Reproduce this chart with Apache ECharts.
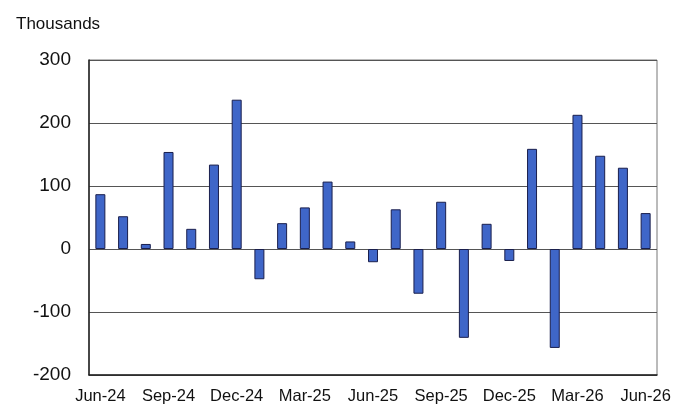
<!DOCTYPE html>
<html lang="en">
<head>
    <meta charset="UTF-8">
    <title>Thousands</title>
    <script src="https://cdn.jsdelivr.net/npm/echarts@6/dist/echarts.min.js"></script>
    <style>
        html, body { margin: 0; padding: 0; background: #fff; }
        #chart { width: 700px; height: 415px; }
    </style>
</head>
<body>
    <div id="chart"></div>
    <script>
        const months = [
            'Jun-24', 'Jul-24', 'Aug-24', 'Sep-24', 'Oct-24', 'Nov-24', 'Dec-24',
            'Jan-25', 'Feb-25', 'Mar-25', 'Apr-25', 'May-25', 'Jun-25', 'Jul-25',
            'Aug-25', 'Sep-25', 'Oct-25', 'Nov-25', 'Dec-25', 'Jan-26', 'Feb-26',
            'Mar-26', 'Apr-26', 'May-26', 'Jun-26'
        ];
        const changes = [
            87, 52, 8, 154, 32, 134, 237,
            -48, 41, 66, 107, 12, -21, 63,
            -71, 75, -141, 40, -19, 159, -157,
            213, 148, 129, 57
        ];
        const yTicks = [-200, -100, 0, 100, 200, 300];

        const chart = echarts.init(document.getElementById('chart'));
        const font = 'Liberation Sans, Arial, sans-serif';

        chart.setOption({
            animation: false,
            title: {
                text: 'Thousands',
                left: 11,
                top: 11,
                textStyle: { fontFamily: font, fontSize: 17, fontWeight: 'normal', color: '#111' }
            },
            grid: {
                left: 89, right: 43, top: 60, bottom: 40,
                show: true, borderColor: '#777', borderWidth: 1
            },
            xAxis: {
                type: 'category',
                data: months,
                boundaryGap: true,
                axisLine: { onZero: false, lineStyle: { color: '#222', width: 1.5 } },
                axisTick: { show: false },
                axisLabel: {
                    interval: 2,
                    margin: 13,
                    fontFamily: font, fontSize: 16.5, color: '#111'
                }
            },
            yAxis: {
                type: 'value',
                min: yTicks[0],
                max: yTicks[yTicks.length - 1],
                interval: 100,
                axisLine: { show: true, lineStyle: { color: '#222', width: 1.5 } },
                axisTick: { show: false },
                axisLabel: { margin: 18, fontFamily: font, fontSize: 19, color: '#111' },
                splitLine: { lineStyle: { color: '#555', width: 1.2 } }
            },
            series: [{
                type: 'bar',
                data: changes,
                barWidth: 10,
                itemStyle: { color: '#3f66c8', borderColor: '#1a1f4d', borderWidth: 1 }
            }]
        });
    </script>
</body>
</html>
